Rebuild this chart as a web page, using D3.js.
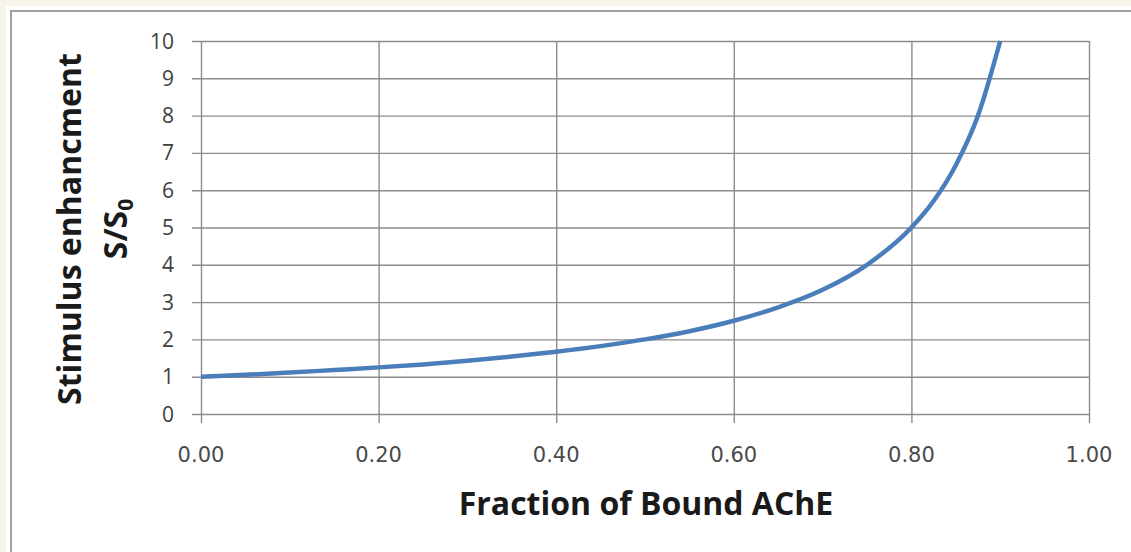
<!DOCTYPE html>
<html>
<head>
<meta charset="utf-8">
<script src="https://cdn.jsdelivr.net/npm/d3@7"></script>
<style>
  body { margin: 0; background: #f6f3ea; }
  svg { display: block; }
</style>
</head>
<body>
<div id="root"></div>
<script>
// values
const fraction = [0.00, 0.05, 0.10, 0.15, 0.20, 0.25, 0.30, 0.35, 0.40, 0.45, 0.50, 0.55, 0.60, 0.65, 0.70, 0.75, 0.80, 0.825, 0.85, 0.875, 0.90];
const enhancement = [1.00, 1.05, 1.11, 1.18, 1.25, 1.33, 1.43, 1.54, 1.67, 1.82, 2.00, 2.22, 2.50, 2.86, 3.33, 4.00, 5.00, 5.71, 6.67, 8.00, 10.00];
const xTicks = [0, 0.2, 0.4, 0.6, 0.8, 1.0];
const yTicks = [0, 1, 2, 3, 4, 5, 6, 7, 8, 9, 10];

const w = 1131;
const h = 552;

const svg = d3.select("#root")
    .append("svg")
    .attr("width", w)
    .attr("height", h);

// chart frame
svg.append("rect")
    .attr("x", 6).attr("y", 6)
    .attr("width", w).attr("height", h)
    .attr("fill", "#fff");
svg.append("rect")
    .attr("x", 11).attr("y", 11)
    .attr("width", w).attr("height", h)
    .attr("fill", "#fff")
    .attr("stroke", "#a0a0a0")
    .attr("stroke-width", 2);

const x = d3.scaleLinear().domain([0, 1]).range([201, 1089]);
const y = d3.scaleLinear().domain([0, 10]).range([414, 41]);

// grid
svg.append("g")
    .selectAll("line")
    .data(yTicks)
    .join("line")
    .attr("x1", x(0) - 9)
    .attr("x2", x(1))
    .attr("y1", d => y(d) + 0.5)
    .attr("y2", d => y(d) + 0.5)
    .attr("stroke", "#8c8c8c")
    .attr("stroke-width", 1.4);

svg.append("g")
    .selectAll("line")
    .data(xTicks)
    .join("line")
    .attr("x1", d => x(d) + 0.5)
    .attr("x2", d => x(d) + 0.5)
    .attr("y1", y(10))
    .attr("y2", y(0) + 9)
    .attr("stroke", "#8c8c8c")
    .attr("stroke-width", 1.4);

// tick labels
svg.append("g")
    .selectAll("text")
    .data(yTicks)
    .join("text")
    .attr("x", 174)
    .attr("y", d => y(d) + 7.5)
    .attr("text-anchor", "end")
    .attr("font-family", "Open Sans, Noto Sans, sans-serif")
    .attr("font-size", "21px")
    .attr("fill", "#404040")
    .text(d => d);

svg.append("g")
    .selectAll("text")
    .data(xTicks)
    .join("text")
    .attr("x", d => x(d))
    .attr("y", 462)
    .attr("text-anchor", "middle")
    .attr("font-family", "DejaVu Sans, sans-serif")
    .attr("font-size", "21px")
    .attr("fill", "#4a4a4a")
    .text(d => d3.format(".2f")(d));

// curve
const line = d3.line()
    .x((d, i) => x(fraction[i]))
    .y(d => y(d))
    .curve(d3.curveMonotoneX);

svg.append("path")
    .attr("d", line(enhancement))
    .attr("fill", "none")
    .attr("stroke", "#4a7ebb")
    .attr("stroke-width", 4.5);

// axis titles
svg.append("text")
    .attr("x", 646)
    .attr("y", 515)
    .attr("text-anchor", "middle")
    .attr("font-family", "Open Sans, Noto Sans, sans-serif")
    .attr("font-weight", "bold")
    .attr("font-size", "32px")
    .attr("fill", "#1a1a1a")
    .text("Fraction of Bound AChE");

const yTitle = svg.append("text")
    .attr("transform", "translate(81,229) rotate(-90)")
    .attr("text-anchor", "middle")
    .attr("font-family", "Open Sans, Noto Sans, sans-serif")
    .attr("font-weight", "bold")
    .attr("font-size", "32px")
    .attr("fill", "#1a1a1a");
yTitle.append("tspan")
    .attr("x", 0).attr("y", 0)
    .text("Stimulus enhancment");
yTitle.append("tspan")
    .attr("x", 0).attr("dy", 46)
    .text("S/S");
yTitle.append("tspan")
    .attr("font-size", "21px")
    .attr("dy", 6)
    .text("0");
</script>
</body>
</html>
